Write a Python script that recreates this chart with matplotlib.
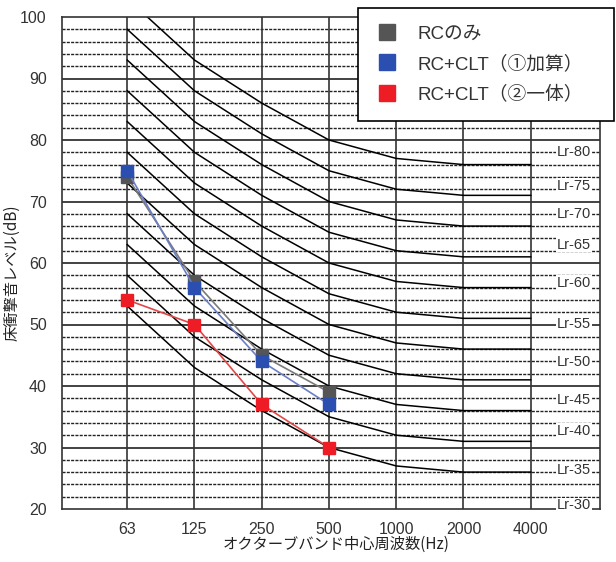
import numpy as np
import matplotlib
matplotlib.use("Agg")
import matplotlib.pyplot as plt
from matplotlib.lines import Line2D

plt.rcParams['font.family'] = ['Liberation Sans', 'Noto Sans CJK JP', 'DejaVu Sans']

# オクターブバンド
bandas = ["63", "125", "250", "500", "1000", "2000", "4000"]

# 測定値 (63-500Hz)
rc_only = [74, 57, 45, 39]
rc_clt_add = [75, 56, 44, 37]
rc_clt_one = [54, 50, 37, 30]

# Lr 曲線 (500Hz 値 + 帯域補正)
lr_levels = [30, 35, 40, 45, 50, 55, 60, 65, 70, 75, 80]
lr_offsets = [23, 13, 6, 0, -3, -4, -4]

# 右側ラベル
lr_names = ["Lr-80", "Lr-75", "Lr-70", "Lr-65", "Lr-60", "Lr-55",
            "Lr-50", "Lr-45", "Lr-40", "Lr-35", "Lr-30"]
lr_label_y = [78.1, 72.6, 68.0, 63.0, 56.8, 50.0, 43.9, 37.8, 32.7, 26.4, 20.6]

fig = plt.figure(figsize=(6.16, 5.62), dpi=100)
ax = fig.add_axes([62 / 616, 1 - 509 / 562, 538 / 616, 492 / 562])

x = np.arange(len(bandas))
ax.set_xlim(-0.97, 7.03)
ax.set_ylim(20, 100)

# 格子
for y in range(22, 100, 2):
    if y % 10 == 0:
        ax.axhline(y, color="#222222", lw=1.2, zorder=1)
    else:
        ax.axhline(y, color="#222222", lw=1.0, ls=(0, (2.2, 0.9)), zorder=1)
for xi in x:
    ax.axvline(xi, color="#333333", lw=1.2, zorder=1)

# Lr 曲線
offs = np.array(lr_offsets)
for lv in lr_levels:
    ax.plot(x, lv + offs, color="black", lw=1.1, zorder=2)

for name, yy in zip(lr_names, lr_label_y):
    ax.text(6.64, yy, name, ha="center", va="center", fontsize=10.5,
            color="#333333", zorder=3,
            bbox=dict(facecolor="white", edgecolor="none", pad=0.5))

# 測定値
xm = x[:len(rc_only)]
ax.plot(xm, rc_only, color="#7a7a7a", lw=1.2, marker="s", ms=9,
        mfc="#555555", mec="#555555", zorder=4)
ax.plot(xm, rc_clt_add, color="#6b7fc4", lw=1.2, marker="s", ms=9,
        mfc="#2b4fb0", mec="#2b4fb0", zorder=5)
ax.plot(xm, rc_clt_one, color="#e04848", lw=1.2, marker="s", ms=9,
        mfc="#ee1c24", mec="#ee1c24", zorder=6)

ax.set_xticks(x)
ax.set_xticklabels(bandas)
ax.set_yticks(range(20, 101, 10))
ax.tick_params(length=0, labelsize=11.5, labelcolor="#333333")
ax.tick_params(axis="x", pad=9)
ax.tick_params(axis="y", pad=11)

for s in ax.spines.values():
    s.set_color("#333333")
    s.set_linewidth(1.2)

ax.set_xlabel("オクターブバンド中心周波数(Hz)", fontsize=11, color="#222222",
              family=["Noto Sans CJK JP"], labelpad=0)
ax.xaxis.set_label_coords(0.51, -0.055)
ax.set_ylabel("床衝撃音レベル(dB)", fontsize=11, color="#222222",
              family=["Noto Sans CJK JP"])
ax.yaxis.set_label_coords(-0.078, 0.48)

handles = [
    Line2D([], [], ls="none", marker="s", ms=11, mfc="#555555", mec="#555555"),
    Line2D([], [], ls="none", marker="s", ms=11, mfc="#2b4fb0", mec="#2b4fb0"),
    Line2D([], [], ls="none", marker="s", ms=11, mfc="#ee1c24", mec="#ee1c24"),
]
leg = fig.legend(handles, ["RCのみ", "RC+CLT（①加算）", "RC+CLT（②一体）"],
                 loc="upper left",
                 bbox_to_anchor=(358 / 616, 1 - 115 / 562, 256 / 616, 107 / 562),
                 mode="expand", fontsize=13.5, frameon=True, fancybox=False,
                 framealpha=1, edgecolor="black", borderpad=0.95,
                 labelspacing=0.65, handlelength=1.2, handletextpad=1.0,
                 borderaxespad=0)
leg.get_frame().set_linewidth(1.2)
for t in leg.get_texts():
    t.set_color("#333333")

fig.savefig("out.png", dpi=100)
plt.close(fig)
